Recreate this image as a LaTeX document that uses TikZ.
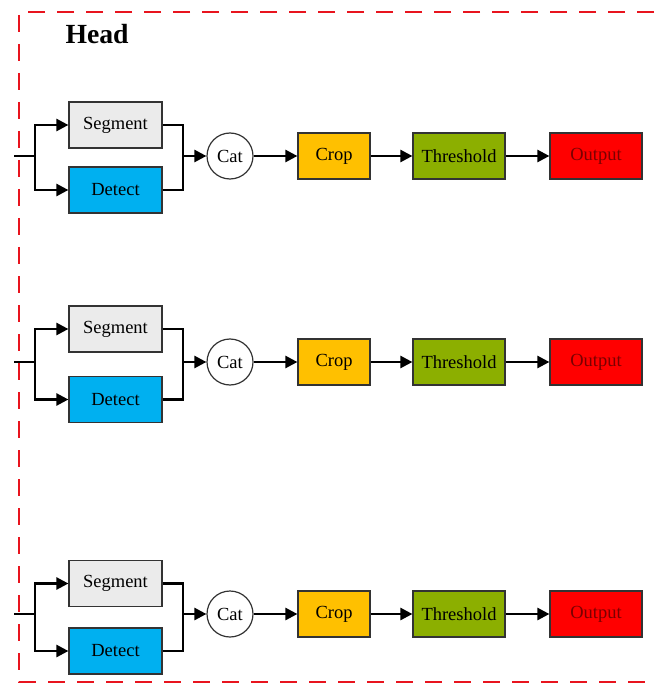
\documentclass[tikz,border=0pt]{standalone}
\usepackage{fontspec}
\setmainfont{Liberation Serif}
\usetikzlibrary{arrows.meta}
\definecolor{segfill}{HTML}{EBEBEB}
\definecolor{detfill}{HTML}{00B0F0}
\definecolor{cropfill}{HTML}{FFC000}
\definecolor{thrfill}{HTML}{8CAF00}
\definecolor{outfill}{HTML}{FF0000}
\definecolor{outtext}{HTML}{7A0000}
\definecolor{boxline}{HTML}{333333}
\definecolor{framered}{HTML}{E8141E}
\begin{document}
\begin{tikzpicture}[x=1pt,y=-1pt,
  box/.style={draw=boxline, line width=1.2pt, minimum height=46pt, inner sep=0pt,
    font=\fontsize{18.5}{20}\selectfont},
  catnode/.style={circle, draw=boxline, line width=1.2pt, fill=white, minimum size=46pt,
    inner sep=0pt, font=\fontsize{18.5}{20}\selectfont},
  link/.style={line width=2.5pt, -{Triangle[length=12pt,width=12pt]}},
  wire/.style={line width=2.5pt},
  frame/.style={draw=framered, line width=2.4pt, dash pattern=on 17pt off 12pt}]
\useasboundingbox (0,0) rectangle (654,684);
\draw[frame] (654,12) -- (19,12) -- (19,682) -- (654,682);
\node[anchor=base west, font=\fontsize{27.7}{30}\selectfont\bfseries] (head) at (62,44) {Head};
\foreach \i/\m/\s/\d in {1/156/125/190, 2/362/329/399.5, 3/614/583.5/651}{
  \coordinate (in\i) at (14,\m);
  \coordinate (sp\i) at (35,\m);
  \coordinate (j\i) at (183,\m);
  \node[box, fill=segfill, minimum width=93pt] (seg\i) at (115.5,\s) {Segment};
  \node[box, fill=detfill, minimum width=93pt] (det\i) at (115.5,\d) {Detect};
  \node[catnode] (cat\i) at (230,\m) {Cat};
  \node[box, fill=cropfill, minimum width=72pt] (crop\i) at (334,\m) {Crop};
  \node[box, fill=thrfill, minimum width=92pt] (thr\i) at (459,\m) {Threshold};
  \node[box, fill=outfill, minimum width=92pt, text=outtext] (out\i) at (596,\m) {Output};
  \draw[wire] (in\i) -- (sp\i);
  \draw[link] (sp\i) |- (seg\i);
  \draw[link] (sp\i) |- (det\i);
  \draw[wire] (seg\i) -| (j\i);
  \draw[wire] (det\i) -| (j\i);
  \draw[link] (j\i) -- (cat\i);
  \draw[link] (cat\i) -- (crop\i);
  \draw[link] (crop\i) -- (thr\i);
  \draw[link] (thr\i) -- (out\i);
}
\end{tikzpicture}
\end{document}
